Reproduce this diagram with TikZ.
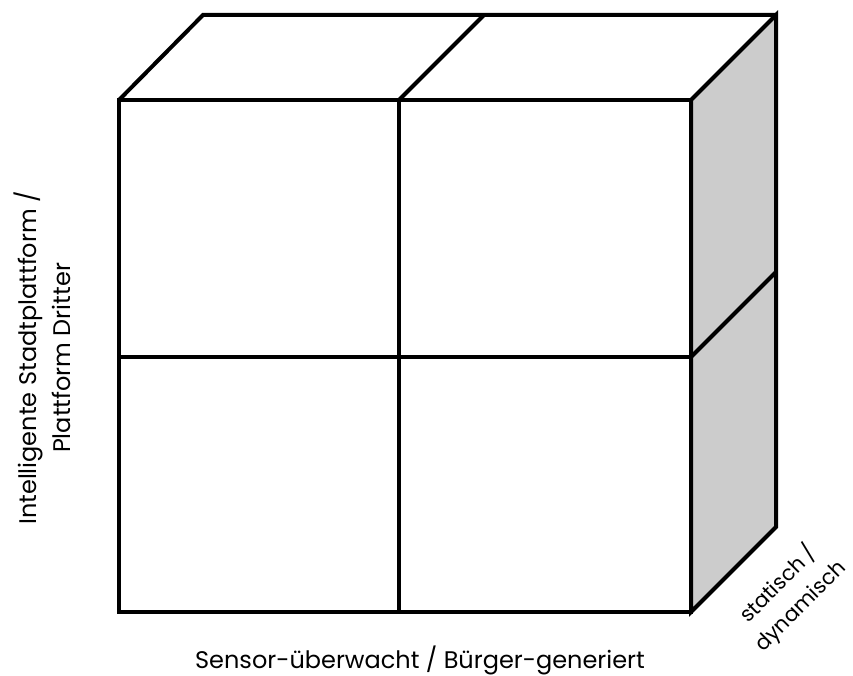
\documentclass[tikz,border=0pt]{standalone}
\usepackage{fontspec}
\setmainfont{Poppins}
\begin{document}
\begin{tikzpicture}[x=1pt,y=-1pt,line width=4pt,line join=miter,
        axislabel/.style={font=\fontsize{24}{34}\selectfont, align=center, inner sep=0pt}]
        \useasboundingbox (0,0) rectangle (853,676);
        % right face, shaded
        \filldraw[fill=black!20] (691,100) -- (776,15) -- (776,527) -- (691,612) -- cycle;
        \draw (691,357) -- (776,272);
        % top face
        \draw (119,100) -- (203,15) -- (776,15);
        \draw (399,100) -- (484,15);
        % front face
        \draw (119,100) rectangle (691,612);
        \draw (399,100) -- (399,612);
        \draw (119,357) -- (691,357);
        \node[axislabel, rotate=90] (yaxis) at (42,358) {Intelligente Stadtplattform /\\Plattform Dritter};
        \node[axislabel] (xaxis) at (420,660) {Sensor-überwacht / Bürger-generiert};
        \node[axislabel, font=\fontsize{21}{31}\selectfont, rotate=45] (zaxis) at (789,595) {statisch /\\dynamisch};
    \end{tikzpicture}
\end{document}
